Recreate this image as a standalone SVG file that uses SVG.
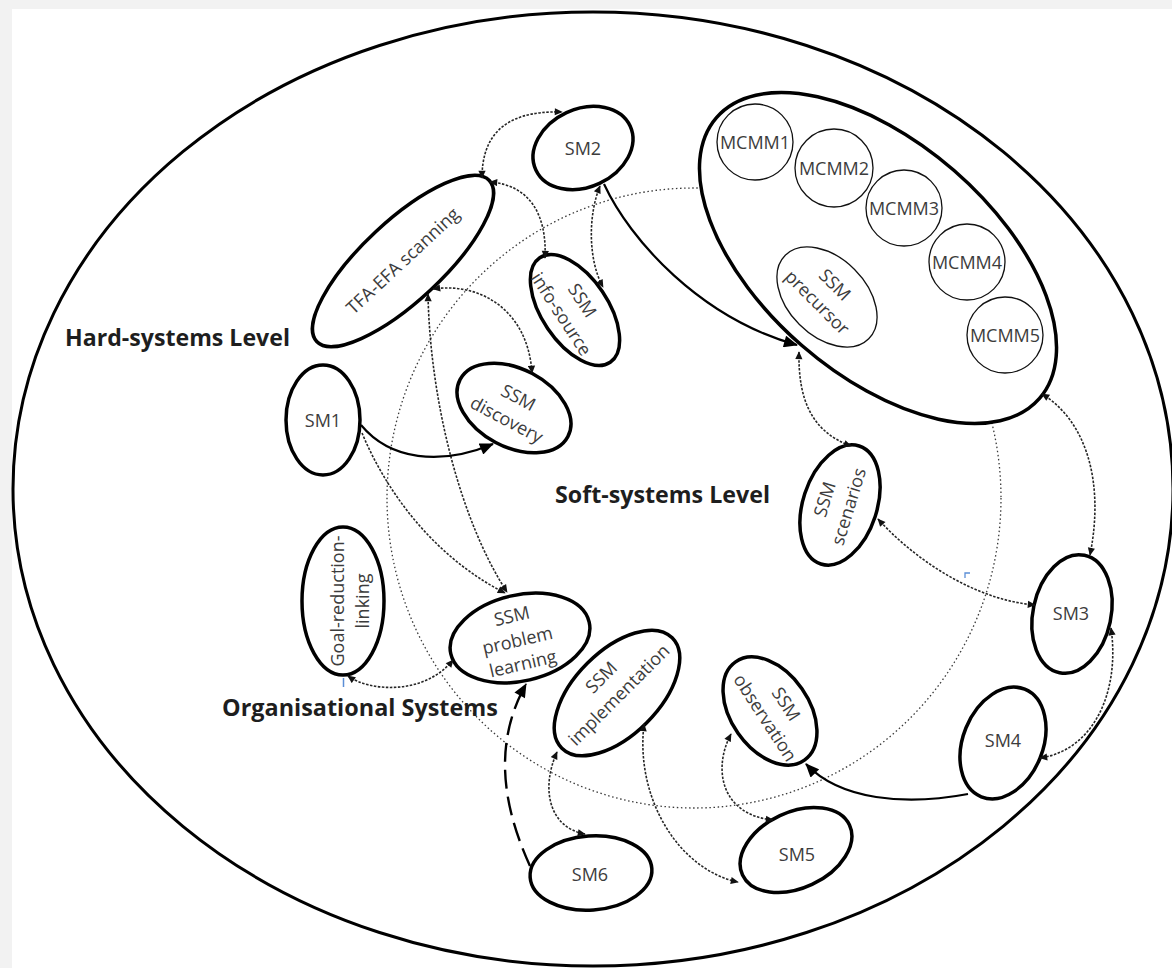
<svg xmlns="http://www.w3.org/2000/svg" width="1172" height="968" viewBox="0 0 1172 968">
  <defs>
    <style>
      .node { fill: #ffffff; stroke: #000000; stroke-width: 3.5; }
      .thin { fill: #ffffff; stroke: #111111; stroke-width: 1.3; }
      .lbl { font-family: "Open Sans", "Noto Sans", sans-serif; font-size: 18px; fill: #3c3c3c; text-anchor: middle; }
      .lvl { font-family: "Open Sans", "Noto Sans", sans-serif; font-size: 23px; font-weight: bold; fill: #1e1e1e; }
      .dot { fill: none; stroke: #262626; stroke-width: 1.6; stroke-dasharray: 2.5 1.5; }
      .solid { fill: none; stroke: #000000; stroke-width: 2.2; }
      .dash { fill: none; stroke: #000000; stroke-width: 2.4; stroke-dasharray: 19 8; }
      .two { marker-start: url(#arrS); marker-end: url(#arrS); }
      .one { marker-end: url(#arrS); }
      .big { marker-end: url(#arrL); }
    </style>
    <marker id="arrS" viewBox="0 0 10 10" refX="9" refY="5" markerWidth="9" markerHeight="8" markerUnits="userSpaceOnUse" orient="auto-start-reverse">
      <path d="M0,0.5 L10,5 L0,9.5 z" fill="#111111"/>
    </marker>
    <marker id="arrL" viewBox="0 0 14 12" refX="13" refY="6" markerWidth="15" markerHeight="12" markerUnits="userSpaceOnUse" orient="auto">
      <path d="M0,0 L14,6 L0,12 z" fill="#000000"/>
    </marker>
  </defs>

  <!-- page -->
  <rect x="0" y="0" width="1172" height="968" fill="#f2f2f2"/>
  <rect x="12" y="9" width="1160" height="959" fill="#ffffff"/>

  <!-- organisational boundary -->
  <ellipse id="organisational" cx="593" cy="489" rx="580" ry="477" fill="none" stroke="#000" stroke-width="3"/>

  <!-- soft-systems boundary -->
  <ellipse id="soft-boundary" cx="694" cy="498" rx="307" ry="310" fill="none" stroke="#3a3a3a" stroke-width="1.3" stroke-dasharray="1.5 2.6"/>

  <!-- level labels -->
  <text class="lvl" x="65" y="346" textLength="225" lengthAdjust="spacingAndGlyphs">Hard-systems Level</text>
  <text class="lvl" x="555" y="503" textLength="215" lengthAdjust="spacingAndGlyphs">Soft-systems Level</text>
  <text class="lvl" x="222" y="716" textLength="276" lengthAdjust="spacingAndGlyphs">Organisational Systems</text>

  <!-- MCMM cluster -->
  <g id="mcmm-cluster">
    <ellipse class="node" cx="0" cy="0" rx="214" ry="116" transform="translate(878,258) rotate(41)" stroke-width="4"/>
    <g id="mcmm1"><circle class="thin" cx="755" cy="142" r="38"/><text class="lbl" x="755" y="149">MCMM1</text></g>
    <g id="mcmm2"><circle class="thin" cx="834" cy="168" r="39"/><text class="lbl" x="834" y="175">MCMM2</text></g>
    <g id="mcmm3"><circle class="thin" cx="904" cy="208" r="38"/><text class="lbl" x="904" y="215">MCMM3</text></g>
    <g id="mcmm4"><circle class="thin" cx="967" cy="262" r="38"/><text class="lbl" x="967" y="269">MCMM4</text></g>
    <g id="mcmm5"><circle class="thin" cx="1005" cy="335" r="38"/><text class="lbl" x="1005" y="342">MCMM5</text></g>
    <g id="ssm-precursor" transform="translate(827,297) rotate(45)">
      <ellipse class="thin" rx="59" ry="39"/>
      <text class="lbl" x="-3" y="-8">SSM</text>
      <text class="lbl" x="-3" y="17">precursor</text>
    </g>
  </g>

  <!-- nodes -->
  <g id="sm2">
    <ellipse class="node" rx="52" ry="39" transform="translate(583,148) rotate(-25)"/>
    <text class="lbl" x="583" y="155">SM2</text>
  </g>

  <g id="tfa-efa" transform="translate(403,261) rotate(-43)">
    <ellipse class="node" rx="118" ry="40"/>
    <text class="lbl" x="0" y="6">TFA-EFA scanning</text>
  </g>

  <g id="ssm-info-source" transform="translate(575,310) rotate(56)">
    <ellipse class="node" rx="63" ry="33"/>
    <text class="lbl" x="-4" y="-5" transform="rotate(1)">SSM</text>
    <text class="lbl" x="-4" y="20" transform="rotate(1)">info-source</text>
  </g>

  <g id="ssm-discovery" transform="translate(514,408) rotate(28)">
    <ellipse class="node" rx="61" ry="39"/>
    <text class="lbl" x="-1" y="-5">SSM</text>
    <text class="lbl" x="-1" y="20">discovery</text>
  </g>

  <g id="sm1">
    <ellipse class="node" cx="323" cy="420" rx="37" ry="55"/>
    <text class="lbl" x="323" y="427">SM1</text>
  </g>

  <g id="goal-reduction" transform="translate(343,601)">
    <ellipse class="node" rx="41" ry="74"/>
    <g transform="rotate(-90)">
      <text class="lbl" x="0" y="1">Goal-reduction-</text>
      <text class="lbl" x="0" y="26">linking</text>
    </g>
  </g>

  <g id="ssm-problem-learning" transform="translate(520,638) rotate(-13)">
    <ellipse class="node" rx="71" ry="43"/>
    <text class="lbl" x="-3" y="-17">SSM</text>
    <text class="lbl" x="-3" y="8">problem</text>
    <text class="lbl" x="-3" y="32">learning</text>
  </g>

  <g id="ssm-implementation" transform="translate(617,693) rotate(-45)">
    <ellipse class="node" rx="78" ry="42"/>
    <text class="lbl" x="0" y="-16">SSM</text>
    <text class="lbl" x="0" y="9">implementation</text>
  </g>

  <g id="ssm-observation" transform="translate(770,711) rotate(55)">
    <ellipse class="node" rx="60" ry="39"/>
    <g transform="rotate(2)">
      <text class="lbl" x="3" y="-11">SSM</text>
      <text class="lbl" x="3" y="14">observation</text>
    </g>
  </g>

  <g id="ssm-scenarios" transform="translate(840,505) rotate(-72)">
    <ellipse class="node" rx="62" ry="37"/>
    <g transform="rotate(-1)">
      <text class="lbl" x="1" y="-10">SSM</text>
      <text class="lbl" x="1" y="15">scenarios</text>
    </g>
  </g>

  <g id="sm3">
    <ellipse class="node" rx="39" ry="60" transform="translate(1072,614) rotate(12)"/>
    <text class="lbl" x="1071" y="620">SM3</text>
  </g>

  <g id="sm4">
    <ellipse class="node" rx="40" ry="58" transform="translate(1003,743) rotate(22)"/>
    <text class="lbl" x="1003" y="747">SM4</text>
  </g>

  <g id="sm5">
    <ellipse class="node" rx="59" ry="38" transform="translate(796,850) rotate(-25)"/>
    <text class="lbl" x="797" y="861">SM5</text>
  </g>

  <g id="sm6">
    <ellipse class="node" rx="61" ry="37" transform="translate(591,873) rotate(-4)"/>
    <text class="lbl" x="590" y="881">SM6</text>
  </g>

  <!-- connectors -->
  <g id="connectors">
    <path class="dot two" d="M482,178 C482,140 500,110 562,112"/>
    <path class="dot two" d="M490,182 C530,185 547,215 545,258"/>
    <path class="dot two" d="M600,186 C588,215 588,260 603,287"/>
    <path class="solid big" d="M604,184 C630,240 700,318 797,345"/>
    <path class="dot two" d="M433,289 C480,282 528,310 532,373"/>
    <path class="dot two" d="M428,294 C430,400 460,520 507,592"/>
    <path class="solid big" d="M361,425 C390,460 440,466 493,444"/>
    <path class="dot one" d="M362,433 C390,500 440,560 505,593"/>
    <path class="dot two" d="M348,676 C370,692 425,695 453,660"/>
    <path class="dash big" d="M530,866 C500,800 495,740 526,684"/>
    <path class="dot two" d="M557,752 C540,790 550,828 585,834"/>
    <path class="dot two" d="M644,724 C635,800 680,870 738,882"/>
    <path class="dot two" d="M731,734 C712,770 722,815 773,820"/>
    <path class="solid big" d="M968,794 C905,806 840,800 806,764"/>
    <path class="dot two" d="M1111,628 C1120,690 1095,750 1040,758"/>
    <path class="dot two" d="M878,519 C915,560 975,600 1035,605"/>
    <path class="dot two" d="M1042,394 C1085,420 1105,480 1090,555"/>
    <path class="dot two" d="M799,352 C798,400 812,432 851,446"/>
  </g>

  <!-- small blue edit marks -->
  <path d="M343.5,678 V687" stroke="#5b8ed6" stroke-width="1.5" fill="none"/>
  <path d="M965,578 V573 H970" stroke="#5b8ed6" stroke-width="1.3" fill="none"/>
</svg>
